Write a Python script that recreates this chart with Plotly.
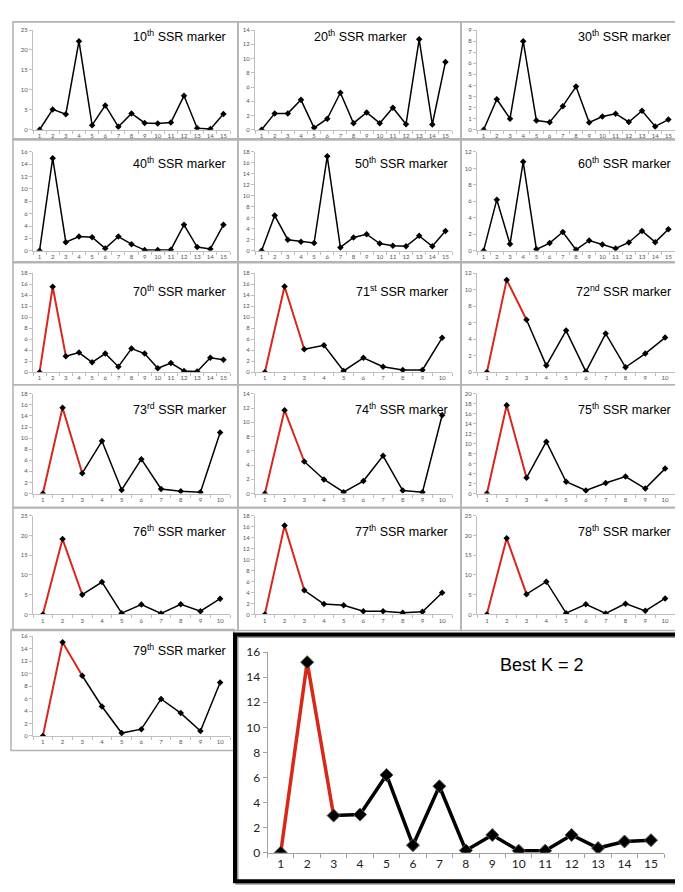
import plotly.graph_objects as go

W, H = 683, 892

# ---------------- data ----------------
marker_nums = ["10", "20", "30", "40", "50", "60", "70", "71", "72", "73", "74", "75", "76", "77", "78", "79"]
marker_sfx = ["th", "th", "th", "th", "th", "th", "th", "st", "nd", "rd", "th", "th", "th", "th", "th", "th"]

v10 = [0, 5.1, 3.9, 22.2, 1.15, 6.1, 0.74, 4.1, 1.7, 1.56, 1.8, 8.55, 0.4, 0.16, 3.95]
v20 = [0, 2.3, 2.3, 4.2, 0.28, 1.55, 5.2, 0.92, 2.44, 0.92, 3.1, 0.78, 12.7, 0.74, 9.5]
v30 = [0, 2.75, 1.0, 8.0, 0.83, 0.68, 2.13, 3.9, 0.65, 1.2, 1.45, 0.7, 1.72, 0.3, 0.92]
v40 = [0, 15.0, 1.38, 2.29, 2.18, 0.37, 2.29, 1.06, 0.1, 0.1, 0.16, 4.2, 0.58, 0.27, 4.2]
v50 = [0, 6.4, 2.0, 1.65, 1.4, 17.2, 0.6, 2.4, 3.0, 1.3, 0.9, 0.8, 2.7, 0.8, 3.6]
v60 = [0, 6.2, 0.8, 10.8, 0.16, 0.92, 2.27, 0.12, 1.24, 0.76, 0.28, 1.0, 2.4, 1.04, 2.6]
v70 = [0, 15.55, 2.92, 3.58, 1.79, 3.4, 1.0, 4.3, 3.4, 0.72, 1.67, 0.24, 0.12, 2.62, 2.26]
v71 = [0, 15.6, 4.17, 4.9, 0.24, 2.62, 1.0, 0.42, 0.42, 6.26]
v72 = [0, 11.2, 6.36, 0.8, 5.05, 0.08, 4.69, 0.6, 2.26, 4.2]
v73 = [0, 15.5, 3.67, 9.47, 0.65, 6.2, 0.83, 0.41, 0.24, 11.0]
v74 = [0, 11.7, 4.5, 1.98, 0.18, 1.75, 5.3, 0.41, 0.18, 11.0]
v75 = [0, 17.7, 3.16, 10.4, 2.37, 0.6, 2.1, 3.42, 0.99, 5.0]
v76 = [0, 19.1, 5.0, 8.2, 0.33, 2.5, 0.25, 2.57, 0.83, 4.0]
v77 = [0, 16.2, 4.4, 1.9, 1.67, 0.6, 0.6, 0.3, 0.48, 3.95]
v78 = [0, 19.27, 5.15, 8.3, 0.33, 2.57, 0.25, 2.74, 0.91, 4.07]
v79 = [0, 15.05, 9.68, 4.74, 0.47, 1.1, 5.95, 3.68, 0.79, 8.58]
best_k = [0, 15.2, 2.96, 3.04, 6.2, 0.6, 5.3, 0.18, 1.41, 0.16, 0.16, 1.41, 0.37, 0.89, 1.0]

panel_values = [v10, v20, v30, v40, v50, v60, v70, v71, v72, v73, v74, v75, v76, v77, v78, v79]
y_max = [25, 14, 9, 16, 18, 12, 18, 18, 12, 18, 14, 20, 25, 18, 25, 16]
y_step = [5, 2, 1, 2, 2, 2, 2, 2, 2, 2, 2, 2, 5, 2, 5, 2]
red_start = [False] * 6 + [True] * 10
best_title = "Best K = 2"
best_ymax, best_step = 16, 2

# ---------------- layout geometry ----------------
col_box = [(5, 230), (230, 453), (453, 679)]
col_plot = [(25, 222), (247, 444), (469, 667)]
col_title_right = [220, 442, 665]
row_box = [(6, 125), (126, 250), (251, 375), (375, 500), (500, 625), (624, 747)]
row_plot = [(14.3, 115.7), (138.3, 238.7), (261.7, 362.3), (384.3, 485.7), (508.3, 608.7), (631, 732.3)]
row_title_y = [20, 150, 280, 400, 524, 645]

RED = "#d8281b"
AXC = "#bfbfbf"


def px(x):
    return x / W


def py(y):
    return 1 - y / H


fig = go.Figure()
layout = dict(width=W, height=H, margin=dict(l=0, r=0, t=0, b=0),
              paper_bgcolor="white", plot_bgcolor="white", showlegend=False)
shapes = []
annotations = []

for i, vals in enumerate(panel_values):
    r, c = divmod(i, 3)
    n = len(vals)
    cats = [str(k) for k in range(1, n + 1)]
    idx = i + 1
    xn = "x" if idx == 1 else f"x{idx}"
    yn = "y" if idx == 1 else f"y{idx}"
    xk = "xaxis" if idx == 1 else f"xaxis{idx}"
    yk = "yaxis" if idx == 1 else f"yaxis{idx}"

    bx0, bx1 = col_box[c]
    by0, by1 = row_box[r]
    cx0, cx1 = col_plot[c]
    if r == 5:
        bx0, bx1 = 3, 226
    shapes.append(dict(type="rect", xref="paper", yref="paper",
                       x0=px(bx0), x1=px(bx1), y0=py(by1), y1=py(by0),
                       line=dict(color="#b4b4b4", width=1.6)))
    ry0, ry1 = row_plot[r]

    layout[xk] = dict(domain=[px(cx0), px(cx1)], anchor=yn, type="category",
                      categoryorder="array", categoryarray=cats,
                      range=[-0.5, n - 0.5], tickmode="linear", tick0=0, dtick=1,
                      tickangle=0,
                      showline=True, linecolor=AXC, linewidth=1, ticks="outside",
                      ticklen=3, tickcolor=AXC, tickson="boundaries",
                      tickfont=dict(size=6, color="#555555", family="Lato"),
                      showgrid=False, zeroline=False)
    layout[yk] = dict(domain=[py(ry1), py(ry0)], anchor=xn,
                      range=[0, y_max[i]], tickmode="linear", tick0=0, dtick=y_step[i],
                      showline=True, linecolor=AXC, linewidth=1, ticks="outside",
                      ticklen=3, tickcolor=AXC,
                      tickfont=dict(size=6, color="#555555", family="Lato"),
                      showgrid=False, zeroline=False)

    if red_start[i]:
        fig.add_trace(go.Scatter(x=cats[2:], y=vals[2:], mode="lines", xaxis=xn, yaxis=yn,
                                 line=dict(color="black", width=1.5), hoverinfo="skip"))
        fig.add_trace(go.Scatter(x=cats[:3], y=vals[:3], mode="lines", xaxis=xn, yaxis=yn,
                                 line=dict(color=RED, width=2), hoverinfo="skip"))
    else:
        fig.add_trace(go.Scatter(x=cats, y=vals, mode="lines", xaxis=xn, yaxis=yn,
                                 line=dict(color="black", width=1.5), hoverinfo="skip"))
    fig.add_trace(go.Scatter(x=cats, y=vals, mode="markers", xaxis=xn, yaxis=yn,
                             marker=dict(symbol="diamond", size=5, color="black")))

    tr = col_title_right[c]
    if i == 1:
        tr = 401
    annotations.append(dict(xref="paper", yref="paper", x=px(tr), y=py(row_title_y[r]),
                             xanchor="right", yanchor="middle", showarrow=False,
                             text=f"{marker_nums[i]}<sup>{marker_sfx[i]}</sup> SSR marker",
                             font=dict(size=12.5, color="black", family="Liberation Sans")))

# ---------------- big "Best K" panel ----------------
idx = len(panel_values) + 1
xn, yn = f"x{idx}", f"y{idx}"
n = len(best_k)
cats = [str(k) for k in range(1, n + 1)]
shapes.append(dict(type="rect", xref="paper", yref="paper",
                   x0=px(229), x1=px(677), y0=py(882), y1=py(631),
                   line=dict(color="#9a9a9a", width=3)))
shapes.append(dict(type="rect", xref="paper", yref="paper",
                   x0=px(227), x1=px(675), y0=py(880), y1=py(629),
                   line=dict(color="black", width=4)))
layout[f"xaxis{idx}"] = dict(domain=[px(259.5), px(656.2)], anchor=yn, type="category",
                             categoryorder="array", categoryarray=cats,
                             range=[-0.5, n - 0.5], tickmode="linear", tick0=0, dtick=1,
                             tickangle=0,
                             showline=True, linecolor="#a0a0a0", linewidth=1, ticks="outside",
                             ticklen=4, tickcolor="#a0a0a0", tickson="boundaries",
                             tickfont=dict(size=12, color="#222222", family="Lato"),
                             showgrid=False, zeroline=False)
layout[f"yaxis{idx}"] = dict(domain=[py(851), py(647)], anchor=xn,
                             range=[0, best_ymax], tickmode="linear", tick0=0, dtick=best_step,
                             showline=True, linecolor="#a0a0a0", linewidth=1, ticks="outside",
                             ticklen=4, tickcolor="#a0a0a0",
                             tickfont=dict(size=12, color="#222222", family="Lato"),
                             showgrid=False, zeroline=False)
fig.add_trace(go.Scatter(x=cats[2:], y=best_k[2:], mode="lines", xaxis=xn, yaxis=yn,
                         line=dict(color="black", width=3.5), hoverinfo="skip"))
fig.add_trace(go.Scatter(x=cats[:3], y=best_k[:3], mode="lines", xaxis=xn, yaxis=yn,
                         line=dict(color=RED, width=3.5), hoverinfo="skip"))
fig.add_trace(go.Scatter(x=cats, y=best_k, mode="markers", xaxis=xn, yaxis=yn,
                         marker=dict(symbol="diamond", size=10, color="black",
                                     line=dict(color="#555555", width=1))))
annotations.append(dict(xref="paper", yref="paper", x=px(534), y=py(660),
                        xanchor="center", yanchor="middle", showarrow=False,
                        text=best_title,
                        font=dict(size=18, color="black", family="Liberation Sans")))

layout["shapes"] = shapes
layout["annotations"] = annotations
fig.update_layout(**layout)
fig.write_html("out.html")
